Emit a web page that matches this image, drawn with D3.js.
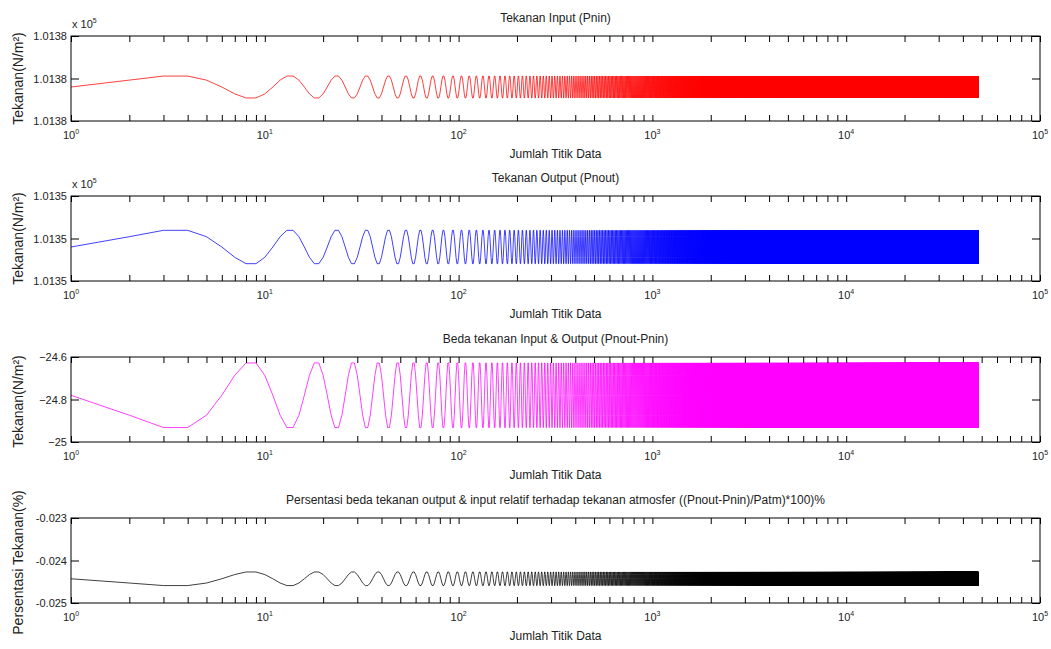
<!DOCTYPE html>
<html>
<head>
<meta charset="utf-8">
<script src="https://cdn.jsdelivr.net/npm/d3@7"></script>
<style>
  body { margin: 0; background: #fff; }
  text { font-family: "Liberation Sans", Arial, sans-serif; fill: #222; }
</style>
</head>
<body>
<div id="chart"></div>
<script>
var width = 1051,
    height = 649,
    left = 71,
    right = 1040,
    panelH = 85;

// number of data points (the traces stop just short of 5 x 10^4)
var nPoints = 48000;

// one period (10 samples) of each trace
var pninCycle = [101379.2, 101379.85, 101380.23, 101380.23, 101379.85,
                 101379.2, 101378.55, 101378.17, 101378.17, 101378.55];
var pnoutCycle = [101349.2, 101350.17, 101350.77, 101350.77, 101350.17,
                  101349.2, 101348.23, 101347.63, 101347.63, 101348.23];
var bedaCycle = [-24.78, -24.874, -24.932, -24.932, -24.874,
                 -24.78, -24.686, -24.628, -24.628, -24.686];
var persenCycle = [-0.02443, -0.02453, -0.02459, -0.02459, -0.02453,
                   -0.02443, -0.02433, -0.02427, -0.02427, -0.02433];

// y tick values per panel
var pninTicks = [101376, 101380, 101384];
var pnoutTicks = [101346, 101350, 101354];
var bedaTicks = [-25, -24.8, -24.6];
var persenTicks = [-0.025, -0.024, -0.023];

var xMajor = [1, 10, 100, 1000, 10000, 100000];

var panels = [
    {top: 36, cycle: pninCycle, ticks: pninTicks, color: '#ff0000',
     title: 'Tekanan Input (Pnin)', ylabel: 'Tekanan(N/m²)', expo: true,
     fmt: function(d){ return (d / 1e5).toFixed(4); }},
    {top: 196, cycle: pnoutCycle, ticks: pnoutTicks, color: '#0000ff',
     title: 'Tekanan Output (Pnout)', ylabel: 'Tekanan(N/m²)', expo: true,
     fmt: function(d){ return (d / 1e5).toFixed(4); }},
    {top: 357, cycle: bedaCycle, ticks: bedaTicks, color: '#ff00ff',
     title: 'Beda tekanan Input & Output (Pnout-Pnin)', ylabel: 'Tekanan(N/m²)', expo: false,
     fmt: function(d){ return d3.format('')(+d.toFixed(1)); }},
    {top: 518, cycle: persenCycle, ticks: persenTicks, color: '#000000',
     title: 'Persentasi beda tekanan output & input relatif terhadap tekanan atmosfer ((Pnout-Pnin)/Patm)*100)%',
     ylabel: 'Persentasi Tekanan(%)', expo: false,
     fmt: function(d){ return d.toFixed(3); }}
];

var xMinor = [];
xMajor.slice(0, -1).forEach(function(d){
    for (var k = 2; k < 10; k++) xMinor.push(d * k);
});

var xScale = d3.scaleLog()
    .domain([1, 1e5])
    .range([left, right]);

var svg = d3.select('#chart').append('svg')
    .attr('width', width)
    .attr('height', height);

svg.append('rect')
    .attr('width', width)
    .attr('height', height)
    .attr('fill', '#fff');

var index = d3.range(1, nPoints + 1);

panels.forEach(function(p){
    var yScale = d3.scaleLinear()
        .domain([p.ticks[0], p.ticks[2]])
        .range([p.top + panelH, p.top]);

    var g = svg.append('g').attr('class', 'panel');

    var line = d3.line()
        .x(function(i){ return xScale(i); })
        .y(function(i){ return yScale(p.cycle[(i - 1) % p.cycle.length]); });

    g.append('path')
        .datum(index)
        .attr('d', line)
        .attr('fill', 'none')
        .attr('stroke', p.color)
        .attr('stroke-width', 0.75);

    // box
    g.append('rect')
        .attr('x', left)
        .attr('y', p.top)
        .attr('width', right - left)
        .attr('height', panelH)
        .attr('fill', 'none')
        .attr('stroke', '#000')
        .attr('stroke-width', 1);

    var allX = xMajor.concat(xMinor);

    var xb = g.append('g')
        .attr('transform', 'translate(0,' + (p.top + panelH) + ')')
        .call(d3.axisBottom(xScale).tickValues(allX).tickSize(-6).tickFormat(''));
    var xt = g.append('g')
        .attr('transform', 'translate(0,' + p.top + ')')
        .call(d3.axisTop(xScale).tickValues(allX).tickSize(-6).tickFormat(''));
    var yl = g.append('g')
        .attr('transform', 'translate(' + left + ',0)')
        .call(d3.axisLeft(yScale).tickValues(p.ticks).tickSize(-8).tickPadding(4).tickFormat(p.fmt));
    var yr = g.append('g')
        .attr('transform', 'translate(' + right + ',0)')
        .call(d3.axisRight(yScale).tickValues(p.ticks).tickSize(-8).tickFormat(''));

    [xb, xt, yl, yr].forEach(function(a){
        a.select('.domain').remove();
        a.selectAll('line').attr('stroke', '#000');
    });
    yl.selectAll('text')
        .style('font-size', '11px')
        .style('font-family', '"Liberation Sans", Arial, sans-serif')
        .attr('fill', '#222');

    // decade labels 10^n
    var lab = g.selectAll('text.xlab')
        .data(xMajor)
        .enter().append('text')
        .attr('class', 'xlab')
        .attr('x', function(d){ return xScale(d); })
        .attr('y', p.top + panelH + 18)
        .attr('text-anchor', 'middle')
        .style('font-size', '11px');
    lab.append('tspan').text('10');
    lab.append('tspan')
        .attr('dy', -5)
        .style('font-size', '7px')
        .text(function(d){ return Math.round(Math.log10(d)); });

    g.append('text')
        .attr('x', (left + right) / 2)
        .attr('y', p.top + panelH + 37)
        .attr('text-anchor', 'middle')
        .style('font-size', '12px')
        .text('Jumlah Titik Data');

    g.append('text')
        .attr('x', (left + right) / 2)
        .attr('y', p.top - 14)
        .attr('text-anchor', 'middle')
        .style('font-size', '12px')
        .text(p.title);

    g.append('text')
        .attr('transform', 'translate(23,' + (p.top + panelH / 2 + (p.expo ? 0 : 2)) + ') rotate(-90)')
        .attr('text-anchor', 'middle')
        .style('font-size', '14px')
        .text(p.ylabel);

    if (p.expo) {
        var ex = g.append('text')
            .attr('x', left + 1)
            .attr('y', p.top - 8)
            .style('font-size', '11px');
        ex.append('tspan').text('x 10');
        ex.append('tspan').attr('dy', -5).style('font-size', '7px').text('5');
    }
});
</script>
</body>
</html>
